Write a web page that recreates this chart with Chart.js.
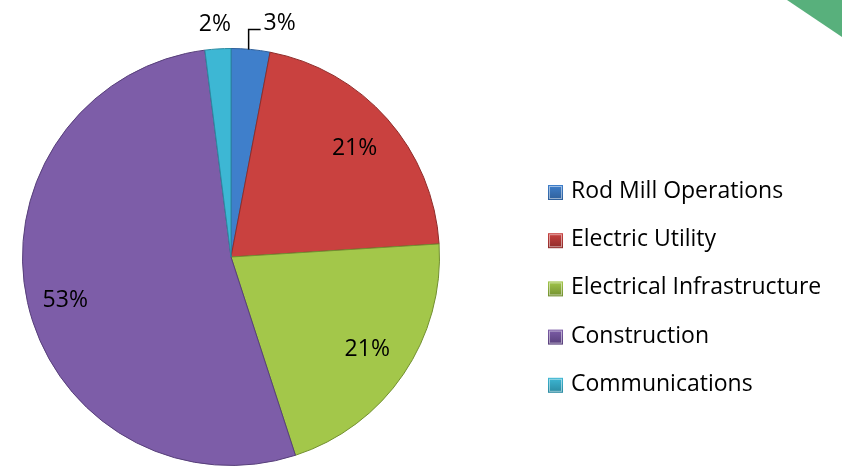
<!DOCTYPE html>
<html>
<head>
<meta charset="utf-8">
<script src="https://cdn.jsdelivr.net/npm/chart.js@4"></script>
<style>
  html, body { margin: 0; padding: 0; background: #fff; }
  #wrap { position: relative; width: 842px; height: 467px; overflow: hidden; }
  #corner {
    position: absolute; top: 0; right: 0; width: 55px; height: 37px;
    background: #58B07C; clip-path: polygon(0 0, 100% 0, 100% 100%);
  }
</style>
</head>
<body>
<div id="wrap">
  <canvas id="myChart" width="842" height="467"></canvas>
  <div id="corner"></div>
</div>
<script>
// pie data
const categories = ['Rod Mill Operations', 'Electric Utility', 'Electrical Infrastructure', 'Construction', 'Communications'];
const shares = [3, 21, 21, 53, 2];
const sliceColors = ['#3F7FCB', '#C9413F', '#A3C74A', '#7D5DA8', '#3DB7D4'];
const edgeColors = ['#2E5F9A', '#8E2C2A', '#728F30', '#573F7A', '#2A8AA1'];

const FONT = '"Open Sans", "DejaVu Sans", sans-serif';

// percent labels on / next to slices
const sliceLabels = {
  id: 'sliceLabels',
  afterDatasetsDraw(chart) {
    const ctx = chart.ctx;
    const meta = chart.getDatasetMeta(0);
    const nudge = { 3: [-5, 8] };
    ctx.save();
    ctx.font = '23px ' + FONT;
    ctx.fillStyle = '#000';
    meta.data.forEach((arc, i) => {
      const p = arc.getProps(['x', 'y', 'startAngle', 'endAngle', 'outerRadius']);
      const mid = (p.startAngle + p.endAngle) / 2;
      const txt = shares[i] + '%';
      if (shares[i] >= 10) {
        const r = p.outerRadius * 0.79;
        const d = nudge[i] || [0, 0];
        ctx.textAlign = 'center';
        ctx.textBaseline = 'middle';
        ctx.fillText(txt, p.x + Math.cos(mid) * r + d[0], p.y + Math.sin(mid) * r + d[1]);
      } else {
        const ex = p.x + Math.cos(mid) * p.outerRadius;
        const ey = p.y + Math.sin(mid) * p.outerRadius;
        if (ex > p.x) {
          // leader line up and to the right
          ctx.strokeStyle = '#000';
          ctx.lineWidth = 1.5;
          ctx.beginPath();
          ctx.moveTo(ex - 2, ey);
          ctx.lineTo(ex - 2, ey - 20);
          ctx.lineTo(ex + 10, ey - 20);
          ctx.stroke();
          ctx.textAlign = 'left';
          ctx.textBaseline = 'middle';
          ctx.fillText(txt, ex + 13, ey - 26);
        } else {
          ctx.textAlign = 'center';
          ctx.textBaseline = 'middle';
          ctx.fillText(txt, ex - 3, ey - 24);
        }
      }
    });
    ctx.restore();
  }
};

// legend on the right
const sideLegend = {
  id: 'sideLegend',
  afterDraw(chart) {
    const ctx = chart.ctx;
    ctx.save();
    ctx.font = '23px ' + FONT;
    ctx.textAlign = 'left';
    ctx.textBaseline = 'alphabetic';
    categories.forEach((name, i) => {
      const base = 198 + i * 48.2;
      const g = ctx.createLinearGradient(548, base - 13, 548, base + 2);
      g.addColorStop(0, sliceColors[i]);
      g.addColorStop(1, edgeColors[i]);
      ctx.fillStyle = g;
      ctx.fillRect(548, base - 13, 15, 15);
      ctx.strokeStyle = '#ffffff';
      ctx.globalAlpha = 0.5;
      ctx.lineWidth = 1;
      ctx.strokeRect(549.5, base - 11.5, 12, 12);
      ctx.globalAlpha = 1;
      ctx.fillStyle = '#000';
      ctx.fillText(name, 571, base);
    });
    ctx.restore();
  }
};

const data = {
  labels: categories,
  datasets: [{
    data: shares,
    backgroundColor: sliceColors,
    borderColor: edgeColors,
    borderWidth: 1
  }]
};

const config = {
  type: 'pie',
  data: data,
  options: {
    responsive: false,
    animation: false,
    layout: { padding: { top: 48, bottom: 1, left: 22, right: 402 } },
    plugins: {
      legend: { display: false },
      tooltip: { enabled: false }
    }
  },
  plugins: [sliceLabels, sideLegend]
};

const myChart = new Chart(document.getElementById('myChart'), config);
</script>
</body>
</html>
